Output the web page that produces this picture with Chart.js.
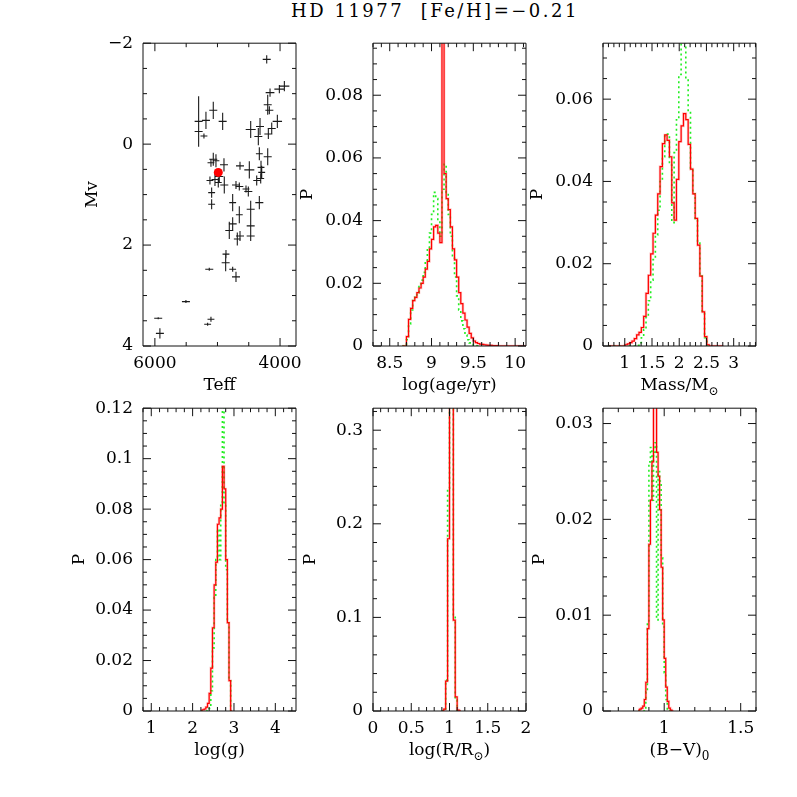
<!DOCTYPE html>
<html>
<head>
<meta charset="utf-8">
<script src="https://cdn.jsdelivr.net/npm/chart.js@4.4.1/dist/chart.umd.min.js"></script>
<style>
  body { margin: 0; background: #fff; width: 797px; height: 797px; position: relative; overflow: hidden; }
  canvas { position: absolute; }
  #title { position: absolute; top: -1px; left: 0; width: 870px; text-align: center;
           font: 18px "DejaVu Serif"; line-height: 24px; letter-spacing: 2.5px; color: #000; }
</style>
</head>
<body>
<div id="title">HD 11977&nbsp;&nbsp;[Fe/H]=−0.21</div>
<canvas id="hr"   width="249" height="375"></canvas>
<canvas id="age"  width="249" height="375"></canvas>
<canvas id="mass" width="249" height="375"></canvas>
<canvas id="logg" width="249" height="375"></canvas>
<canvas id="rad"  width="249" height="375"></canvas>
<canvas id="bv"   width="249" height="375"></canvas>
<script>
// ---- HR diagram: comparison stars (Teff, Mv with errors) ----
const starTeff = [4213, 3931, 4011, 4160, 4197, 4171, 4043, 4133, 4187, 4320, 4469, 4347,
  4331, 4197, 4304, 4293, 4309, 4373, 4331, 4491, 4640, 4507, 4544, 4651, 4704, 4757,
  4469, 4651, 4757, 4469, 4469, 4640, 4683, 4811, 4864, 4869, 4757, 4704, 5131, 5504,
  5947, 5920, 5157, 5104, 5301, 5184, 5067, 4917, 5301, 5216, 5067, 5024, 5104, 4896,
  5120, 5040, 4971, 4891, 4987, 5093, 5093];
const starTeffErr = [64, 80, 80, 70, 64, 64, 75, 64, 64, 64, 80, 64,
  55, 64, 55, 55, 55, 55, 64, 80, 64, 64, 55, 64, 64, 55,
  64, 55, 64, 64, 64, 64, 55, 64, 55, 64, 55, 64, 64, 64,
  64, 64, 55, 55, 64, 64, 64, 64, 64, 55, 64, 55, 55, 64,
  55, 55, 64, 64, 55, 55, 55];
const starMv = [-1.68, -1.15, -1.09, -1.02, -0.78, -0.67, -0.45, -0.31, -0.2, -0.35, -0.29, -0.15,
  0.19, 0.25, 0.46, 0.56, 0.68, 0.72, 1.16, 0.51, 0.43, 0.94, 0.89, 0.84, 0.81, 1.16,
  1.29, 1.40, 1.58, 1.62, 1.82, 1.82, 1.88, 1.71, 2.18, 2.35, 2.48, 2.63, 2.48, 3.12,
  3.45, 3.75, 3.57, 3.47, -0.45, -0.47, -0.67, -0.45, -0.25, -0.16, 0.30, 0.33, 0.37, 0.41,
  0.72, 0.70, 0.64, 0.81, 0.76, 0.96, 1.19];
const starMvErr = [0.08, 0.1, 0.08, 0.08, 0.2, 0.08, 0.13, 0.12, 0.1, 0.17, 0.17, 0.17,
  0.13, 0.17, 0.13, 0.13, 0.1, 0.1, 0.13, 0.17, 0.08, 0.1, 0.07, 0.08, 0.08, 0.17,
  0.17, 0.17, 0.13, 0.2, 0.1, 0.1, 0.13, 0.17, 0.08, 0.17, 0.05, 0.1, 0.03, 0.03,
  0.02, 0.1, 0.03, 0.05, 0.5, 0.17, 0.17, 0.17, 0.13, 0.05, 0.13, 0.13, 0.08, 0.13,
  0.08, 0.13, 0.13, 0.17, 0.1, 0.1, 0.1];
const targetTeff = [4987];
const targetMv = [0.56];

// ---- probability histograms (bin start, bin width, P per bin) ----
const ageStart = 8.65, ageStep = 0.025;
const ageRed = [0, 0, 0.003, 0.0085, 0.012, 0.0145, 0.0155, 0.017, 0.0185, 0.02, 0.022, 0.0245,
  0.027, 0.031, 0.034, 0.038, 0.0385, 0.036, 0.033, 0.12, 0.055, 0.047, 0.0435, 0.038, 0.031,
  0.0275, 0.022, 0.017, 0.0135, 0.0105, 0.0083, 0.006, 0.004, 0.0026, 0.0016, 0.0011, 0.0008,
  0.0006, 0.0005, 0.0004, 0.0003, 0.0002, 0.0002, 0.0001, 0.0001, 0.0001,
  0, 0, 0, 0, 0, 0, 0, 0, 0, 0, 0, 0, 0];
const ageGreen = [0, 0, 0.002, 0.007, 0.0115, 0.0145, 0.0155, 0.017, 0.019, 0.021, 0.0235, 0.027,
  0.031, 0.036, 0.042, 0.049, 0.047, 0.04, 0.035, 0.05, 0.058, 0.049, 0.042, 0.035, 0.028,
  0.022, 0.016, 0.0115, 0.008, 0.0055, 0.0035, 0.002, 0.001, 0.0005, 0.0002, 0.0001, 0, 0];

const massStart = 0.702, massStep = 0.043;
const massRed = [0, 0, 0, 0, 0, 0, 0, 0.0003, 0.0005, 0.0008, 0.0012, 0.0018, 0.0027, 0.0033,
  0.0045, 0.0072, 0.0128, 0.0172, 0.0224, 0.0274, 0.0318, 0.037, 0.0436, 0.0492, 0.0513, 0.05,
  0.046, 0.0348, 0.0306, 0.0405, 0.0497, 0.0535, 0.0565, 0.055, 0.049, 0.043, 0.037, 0.031,
  0.0245, 0.017, 0.0083, 0.0023, 0.0003, 0, 0, 0, 0, 0, 0];
const massGreen = [0, 0, 0, 0, 0, 0, 0, 0, 0, 0, 0, 0, 0.0002, 0.0008, 0.002, 0.004, 0.007,
  0.011, 0.016, 0.021, 0.027, 0.033, 0.04, 0.046, 0.0515, 0.0515, 0.044, 0.03, 0.047, 0.055,
  0.066, 0.076, 0.076, 0.065, 0.057, 0.043, 0.037, 0.031, 0.025, 0.017, 0.0085, 0.002, 0];

const loggStart = 2.2, loggStep = 0.04;
const loggRed = [0.0003, 0.0005, 0.0008, 0.0015, 0.003, 0.007, 0.017, 0.033, 0.05, 0.059,
  0.074, 0.0765, 0.08, 0.097, 0.088, 0.06, 0.035, 0.012, 0];
const loggGreen = [0, 0, 0, 0, 0, 0.001, 0.008, 0.025, 0.045, 0.06, 0.072, 0.06, 0.082,
  0.125, 0.082, 0.056, 0.035, 0.012, 0];

const radStart = 0.9, radStep = 0.025;
const radRed = [0, 0.002, 0.032, 0.184, 0.5, 0.45, 0.097, 0.015, 0.001, 0];
const radGreen = [0, 0, 0.033, 0.238, 0.5, 0.5, 0.102, 0.012, 0, 0];

const bvStart = 0.83, bvStep = 0.01;
const bvRed = [0.0001, 0.0002, 0.0003, 0.0005, 0.0012, 0.003, 0.0086, 0.0174, 0.022, 0.026,
  0.032, 0.032, 0.027, 0.0245, 0.021, 0.015, 0.0095, 0.0055, 0.0025, 0.001, 0.0003, 0.0001, 0];
const bvGreen = [0, 0, 0, 0, 0, 0.002, 0.0093, 0.026, 0.0275, 0.022, 0.027, 0.028, 0.0095,
  0.025, 0.024, 0.016, 0.009, 0.004, 0.0012, 0, 0, 0, 0];

// ---- labelled tick values ----
const teffTicks = [6000, 4000];
const mvTicks = [-2, 0, 2, 4];
const ageTicks = [8.5, 9, 9.5, 10];
const ageTicksP = [0, 0.02, 0.04, 0.06, 0.08];
const massTicks = [1, 1.5, 2, 2.5, 3];
const massTicksP = [0, 0.02, 0.04, 0.06];
const loggTicks = [1, 2, 3, 4];
const loggTicksP = [0, 0.02, 0.04, 0.06, 0.08, 0.1, 0.12];
const radTicks = [0, 0.5, 1, 1.5, 2];
const radTicksP = [0, 0.1, 0.2, 0.3];
const bvTicks = [1, 1.5];
const bvTicksP = [0, 0.01, 0.02, 0.03];

const PW = 153, PH = 303;   // plot box size in px
const FONT = '17px "DejaVu Serif"';
const SUBFONT = '12px "DejaVu Serif"';
Chart.defaults.font.family = '"DejaVu Serif"';
Chart.defaults.font.size = 17;
Chart.defaults.color = '#000';

// frame, inward ticks on all four sides, and axis titles (x title may carry a subscript)
const axesDeco = {
  id: 'axesDeco',
  afterDraw(chart, args, o) {
    const { ctx, chartArea: a } = chart;
    const x = chart.scales.x, y = chart.scales.y;
    ctx.save();
    ctx.strokeStyle = '#111';
    ctx.lineWidth = 1;
    ctx.beginPath();
    const marks = (sc, major, minor, cb) => {
      const lo = Math.min(sc.min, sc.max), hi = Math.max(sc.min, sc.max);
      for (let i = Math.ceil(lo / minor - 1e-6); i * minor <= hi + 1e-9; i++) {
        const v = i * minor, r = v / major;
        cb(sc.getPixelForValue(v), Math.abs(r - Math.round(r)) < 1e-6 ? 8 : 4);
      }
    };
    marks(x, o.xMajor, o.xMinor, (p, l) => {
      ctx.moveTo(p, a.bottom); ctx.lineTo(p, a.bottom - l);
      ctx.moveTo(p, a.top); ctx.lineTo(p, a.top + l);
    });
    marks(y, o.yMajor, o.yMinor, (p, l) => {
      ctx.moveTo(a.left, p); ctx.lineTo(a.left + l, p);
      ctx.moveTo(a.right, p); ctx.lineTo(a.right - l, p);
    });
    ctx.rect(a.left, a.top, a.right - a.left, a.bottom - a.top);
    ctx.stroke();

    ctx.fillStyle = '#000';
    ctx.textBaseline = 'alphabetic';
    ctx.textAlign = 'left';
    let w = 0;
    o.xTitle.forEach(([t, sub]) => { ctx.font = sub ? SUBFONT : FONT; w += ctx.measureText(t).width; });
    let cx = (a.left + a.right) / 2 - w / 2;
    const base = a.bottom + 44;
    o.xTitle.forEach(([t, sub]) => {
      ctx.font = sub ? SUBFONT : FONT;
      ctx.fillText(t, cx, base + (sub ? 5 : 0));
      cx += ctx.measureText(t).width;
    });

    ctx.font = FONT;
    ctx.translate(a.left - o.yOff, (a.top + a.bottom) / 2);
    ctx.rotate(-Math.PI / 2);
    ctx.textAlign = 'center';
    ctx.textBaseline = 'middle';
    ctx.fillText(o.yTitle, 0, 0);
    ctx.restore();
  }
};

// error crosses for the comparison stars
const errorBars = {
  id: 'errorBars',
  beforeDatasetsDraw(chart) {
    const { ctx, chartArea: a } = chart;
    const x = chart.scales.x, y = chart.scales.y;
    ctx.save();
    ctx.beginPath();
    ctx.rect(a.left, a.top, a.right - a.left, a.bottom - a.top);
    ctx.clip();
    ctx.strokeStyle = '#1a1a1a';
    ctx.lineWidth = 1.1;
    ctx.beginPath();
    starTeff.forEach((t, i) => {
      const px = x.getPixelForValue(t), py = y.getPixelForValue(starMv[i]);
      ctx.moveTo(x.getPixelForValue(t - starTeffErr[i]), py);
      ctx.lineTo(x.getPixelForValue(t + starTeffErr[i]), py);
      ctx.moveTo(px, y.getPixelForValue(starMv[i] - starMvErr[i]));
      ctx.lineTo(px, y.getPixelForValue(starMv[i] + starMvErr[i]));
    });
    ctx.stroke();
    ctx.restore();
  }
};

function steps(start, step, vals) {
  const pts = vals.map((v, i) => ({ x: start + i * step, y: v }));
  pts.push({ x: start + vals.length * step, y: vals[vals.length - 1] });
  return pts;
}

const fmt = v => String(+(+v).toFixed(4)).replace('-', '−');

function axes(xr, yr) {
  return {
    x: {
      type: 'linear', min: xr.min, max: xr.max, reverse: !!xr.reverse,
      grid: { display: false, drawTicks: false }, border: { display: false },
      ticks: { padding: 7, maxRotation: 0, autoSkip: false, callback: fmt },
      afterBuildTicks: s => { s.ticks = xr.ticks.map(v => ({ value: v })); },
      afterFit: s => { s.height = 60; }
    },
    y: {
      type: 'linear', min: yr.min, max: yr.max, reverse: !!yr.reverse,
      grid: { display: false, drawTicks: false }, border: { display: false },
      ticks: { padding: 10, autoSkip: false, callback: fmt },
      afterBuildTicks: s => { s.ticks = yr.ticks.map(v => ({ value: v })); },
      afterFit: s => { s.width = 80; }
    }
  };
}

function baseOpts(scales, deco) {
  return {
    responsive: false,
    maintainAspectRatio: false,
    animation: false,
    events: [],
    layout: { padding: { left: 0, top: 12, right: 16, bottom: 0 } },
    scales: scales,
    plugins: { legend: { display: false }, tooltip: { enabled: false }, axesDeco: deco }
  };
}

// build once, measure the plot box, rebuild at the size that gives a PW x PH box at (L, T)
function place(id, L, T, makeConfig) {
  const canvas = document.getElementById(id);
  let chart = new Chart(canvas, makeConfig());
  const a = chart.chartArea;
  const w = Math.round(chart.width + PW - (a.right - a.left));
  const h = Math.round(chart.height + PH - (a.bottom - a.top));
  chart.destroy();
  canvas.width = w; canvas.height = h;
  canvas.style.width = w + 'px'; canvas.style.height = h + 'px';
  chart = new Chart(canvas, makeConfig());
  const b = chart.chartArea;
  canvas.style.left = (L - b.left) + 'px';
  canvas.style.top = (T - b.top) + 'px';
}

function histConfig(start, step, red, green, xr, yr, deco) {
  return () => ({
    type: 'line',
    data: {
      datasets: [
        { data: steps(start, step, red), stepped: true, borderColor: '#ff0000', borderWidth: 1.2,
          pointRadius: 0, fill: false, clip: 0 },
        { data: steps(start, step, green), stepped: true, borderColor: '#22ee22', borderWidth: 1.6,
          borderDash: [2, 3], pointRadius: 0, fill: false, clip: 0 },
        { data: steps(start, step, red), stepped: true, borderColor: 'rgba(255,110,110,0.4)', borderWidth: 2.6,
          pointRadius: 0, fill: false, clip: 0 }
      ]
    },
    options: baseOpts(axes(xr, yr), deco),
    plugins: [axesDeco]
  });
}

// HR diagram
place('hr', 143, 43, () => ({
  type: 'scatter',
  data: {
    datasets: [
      { data: targetTeff.map((t, i) => ({ x: t, y: targetMv[i] })), pointRadius: 4.5,
        backgroundColor: '#ff0000', borderWidth: 0 },
      { data: starTeff.map((t, i) => ({ x: t, y: starMv[i] })), pointRadius: 0 }
    ]
  },
  options: baseOpts(
    axes({ min: 3745, max: 6190, reverse: true, ticks: teffTicks }, { min: -2, max: 4, reverse: true, ticks: mvTicks }),
    { xMajor: 2000, xMinor: 500, yMajor: 2, yMinor: 0.5, xTitle: [['Teff']], yTitle: 'Mv', yOff: 50 }),
  plugins: [errorBars, axesDeco]
}));

place('age', 373, 43, histConfig(ageStart, ageStep, ageRed, ageGreen,
  { min: 8.3, max: 10.13, ticks: ageTicks }, { min: 0, max: 0.0966, ticks: ageTicksP },
  { xMajor: 0.5, xMinor: 0.1, yMajor: 0.02, yMinor: 0.005, xTitle: [['log(age/yr)']], yTitle: 'P', yOff: 65 }));

place('mass', 603, 43, histConfig(massStart, massStep, massRed, massGreen,
  { min: 0.6, max: 3.41, ticks: massTicks }, { min: 0, max: 0.0736, ticks: massTicksP },
  { xMajor: 0.5, xMinor: 0.1, yMajor: 0.02, yMinor: 0.005, xTitle: [['Mass/M'], ['⊙', true]], yTitle: 'P', yOff: 65 }));

place('logg', 143, 408, histConfig(loggStart, loggStep, loggRed, loggGreen,
  { min: 0.8, max: 4.5, ticks: loggTicks }, { min: 0, max: 0.12, ticks: loggTicksP },
  { xMajor: 1, xMinor: 0.2, yMajor: 0.02, yMinor: 0.005, xTitle: [['log(g)']], yTitle: 'P', yOff: 63 }));

place('rad', 373, 408, histConfig(radStart, radStep, radRed, radGreen,
  { min: 0, max: 2, ticks: radTicks }, { min: 0, max: 0.3235, ticks: radTicksP },
  { xMajor: 0.5, xMinor: 0.1, yMajor: 0.1, yMinor: 0.02, xTitle: [['log(R/R'], ['⊙', true], [')']], yTitle: 'P', yOff: 62 }));

place('bv', 603, 408, histConfig(bvStart, bvStep, bvRed, bvGreen,
  { min: 0.6, max: 1.6, ticks: bvTicks }, { min: 0, max: 0.0316, ticks: bvTicksP },
  { xMajor: 0.5, xMinor: 0.1, yMajor: 0.01, yMinor: 0.002, xTitle: [['(B−V)'], ['0', true]], yTitle: 'P', yOff: 63 }));
</script>
</body>
</html>
